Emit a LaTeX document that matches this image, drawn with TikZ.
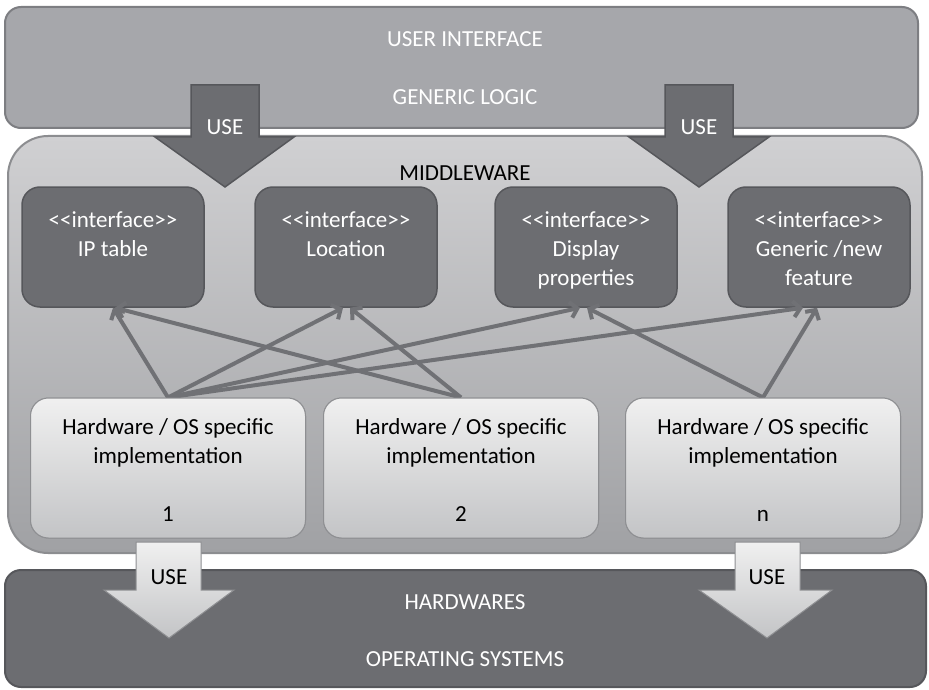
\documentclass[tikz,border=0pt]{standalone}
\usepackage{fontspec}
\setmainfont{Carlito}[Ligatures=TeXOff]
\usetikzlibrary{arrows.meta}
\definecolor{uifill}{HTML}{A6A7AB}
\definecolor{uiline}{HTML}{7D7E82}
\definecolor{mwtop}{HTML}{D0D0D2}
\definecolor{mwbot}{HTML}{A0A1A4}
\definecolor{mwline}{HTML}{8C8D90}
\definecolor{darkfill}{HTML}{6C6D71}
\definecolor{darkline}{HTML}{56575B}
\definecolor{imtop}{HTML}{F0F0F0}
\definecolor{imbot}{HTML}{C3C4C6}
\definecolor{imline}{HTML}{8E8F92}
\definecolor{connc}{HTML}{707175}
\begin{document}
\begin{tikzpicture}[x=1pt,y=-1pt,
  txt/.style={font=\fontsize{23}{29}\selectfont, inner sep=0pt, align=center},
  wtxt/.style={txt, text=white},
  btxt/.style={txt, text=black},
  uibox/.style={draw=uiline, line width=2pt, fill=uifill, rounded corners=16pt},
  mwbox/.style={draw=mwline, line width=2pt, top color=mwtop, bottom color=mwbot, rounded corners=40pt},
  ifbox/.style={draw=darkline, line width=1.5pt, fill=darkfill, rounded corners=18pt, minimum width=182, minimum height=120, inner sep=0pt},
  imbox/.style={draw=imline, line width=1pt, top color=imtop, bottom color=imbot, rounded corners=18pt, minimum width=275, minimum height=140, inner sep=0pt},
  hwbox/.style={draw=darkline, line width=2pt, fill=darkfill, rounded corners=16pt},
  usedark/.style={draw=darkline, line width=1.5pt, fill=darkfill},
  uselight/.style={draw=imline, line width=1pt, top color=imtop, bottom color=imbot},
  conn/.style={draw=connc, line width=4pt, -{Straight Barb[length=7pt,width=16pt]}}
]
\useasboundingbox (0,0) rectangle (929,690);

% user interface / generic logic
\path[uibox] (5,7) rectangle (918,128);
\node[wtxt] (ui) at (465,39) {USER INTERFACE};
\node[wtxt] (gl) at (465,97) {GENERIC LOGIC};

% middleware
\path[mwbox] (8,136) rectangle (922,553);
\node[btxt] (mw) at (465,173) {MIDDLEWARE};

% top USE arrows
\path[usedark] (191,85) -- (259,85) -- (259,137) -- (294,137) -- (225,187) -- (155,137) -- (191,137) -- cycle;
\node[wtxt] (use1) at (225,127) {USE};
\path[usedark] (665,85) -- (733,85) -- (733,137) -- (769,137) -- (699,187) -- (629,137) -- (665,137) -- cycle;
\node[wtxt] (use2) at (699,127) {USE};

% interface boxes
\node[ifbox] (ip) at (113,247) {};
\node[ifbox] (loc) at (346,247) {};
\node[ifbox] (disp) at (586,247) {};
\node[ifbox] (gen) at (819,247) {};
\node[wtxt, anchor=north] (ipt) at (113,211) {<<interface>>\\IP table};
\node[wtxt, anchor=north] (loct) at (346,211) {<<interface>>\\Location};
\node[wtxt, anchor=north] (dispt) at (586,211) {<<interface>>\\Display\\properties};
\node[wtxt, anchor=north] (gent) at (819,211) {<<interface>>\\Generic /new\\feature};

% implementation boxes (positions)
\coordinate (c1) at (168,468);
\coordinate (c2) at (461,468);
\coordinate (c3) at (763,468);
\node[imbox] (im1) at (c1) {};
\node[imbox] (im2) at (c2) {};
\node[imbox] (im3) at (c3) {};

% connectors
\draw[conn] (im1.north) -- (ip.south);
\draw[conn] (im1.north) -- ([xshift=-3pt]loc.south);
\draw[conn] (im1.north) -- ([xshift=-6pt]disp.south);
\draw[conn] (im1.north) -- ([xshift=-16pt]gen.south);
\draw[conn] (im2.north) -- ([xshift=2pt]ip.south);
\draw[conn] (im2.north) -- ([xshift=4pt]loc.south);
\draw[conn] (im3.north) -- ([xshift=1pt]disp.south);
\draw[conn] (im3.north) -- ([xshift=-2pt]gen.south);

% redraw implementation boxes above connector ends
\node[imbox] (im1b) at (c1) {};
\node[imbox] (im2b) at (c2) {};
\node[imbox] (im3b) at (c3) {};
\node[btxt, anchor=north] (im1t) at (168,418) {Hardware / OS specific\\implementation\\[29pt]1};
\node[btxt, anchor=north] (im2t) at (461,418) {Hardware / OS specific\\implementation\\[29pt]2};
\node[btxt, anchor=north] (im3t) at (763,418) {Hardware / OS specific\\implementation\\[29pt]n};

% hardware / operating systems
\path[hwbox] (5,570) rectangle (926,687);
\node[wtxt] (hw) at (465,602) {HARDWARES};
\node[wtxt] (os) at (465,659) {OPERATING SYSTEMS};

% bottom USE arrows
\path[uselight] (136,542) -- (201,542) -- (201,590) -- (234,590) -- (169,638) -- (104,590) -- (136,590) -- cycle;
\node[btxt] (use3) at (169,577) {USE};
\path[uselight] (735,542) -- (800,542) -- (800,590) -- (832,590) -- (767,638) -- (699,590) -- (735,590) -- cycle;
\node[btxt] (use4) at (767,577) {USE};
\end{tikzpicture}
\end{document}
